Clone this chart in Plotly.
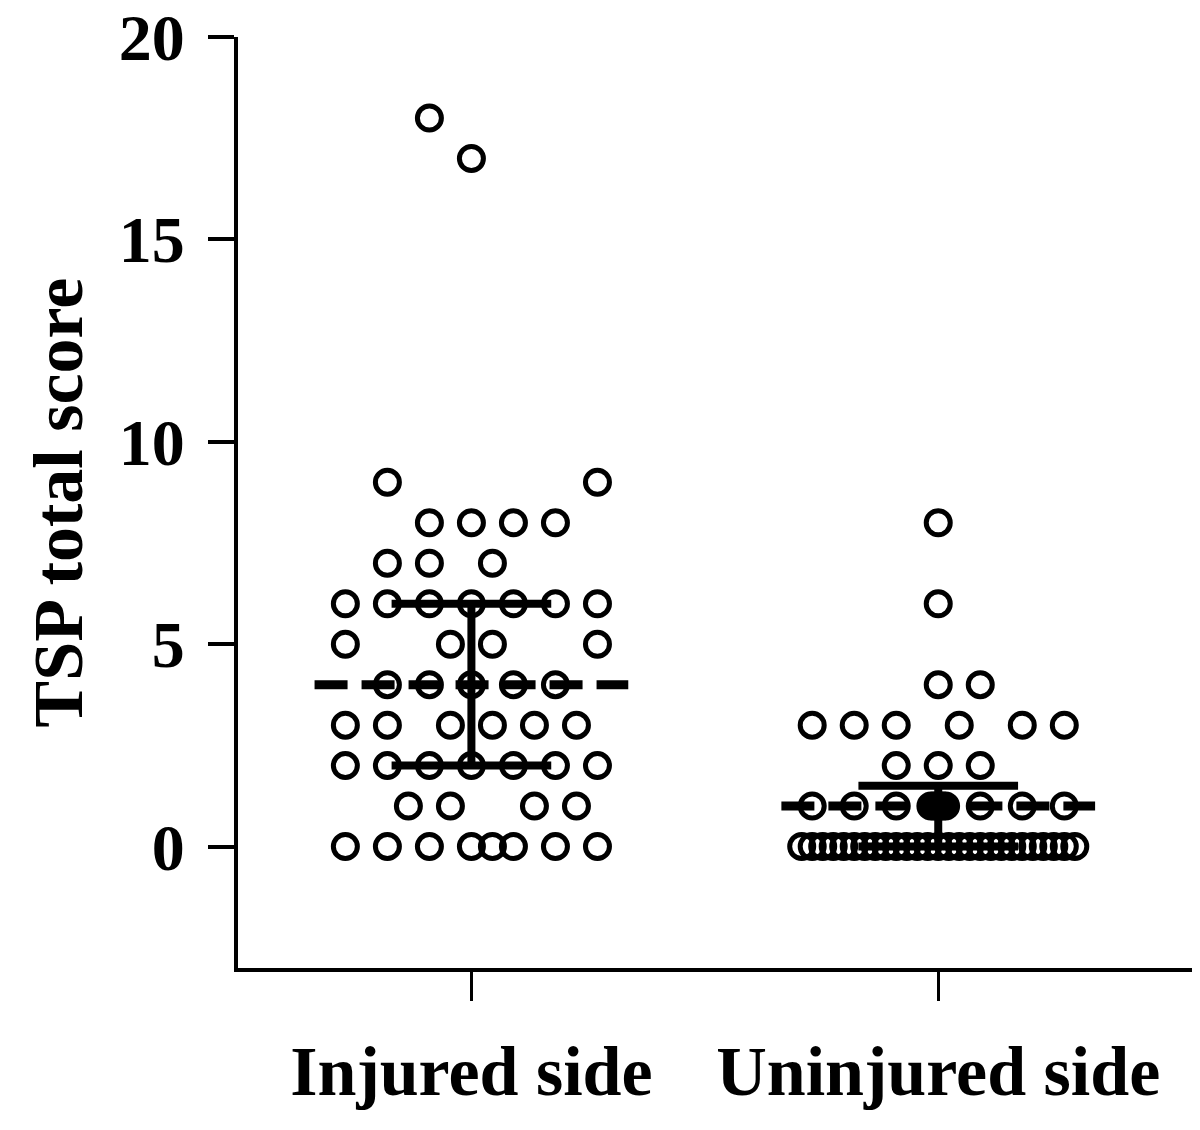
import plotly.graph_objects as go

# data
categories = ["Injured side", "Uninjured side"]

injured_values = [18, 17, 9, 9, 8, 8, 8, 8, 7, 7, 7,
                  6, 6, 6, 6, 6, 6, 6, 5, 5, 5, 5, 4, 4, 4, 4, 4,
                  3, 3, 3, 3, 3, 3, 2, 2, 2, 2, 2, 2, 2, 1, 1, 1, 1,
                  0, 0, 0, 0, 0, 0, 0, 0]
uninjured_values = [8, 6, 4, 4, 3, 3, 3, 3, 3, 3, 2, 2, 2,
                    1, 1, 1, 1, 1, 1, 1, 1, 1, 1, 1, 1,
                    0, 0, 0, 0, 0, 0, 0, 0, 0, 0, 0, 0, 0, 0,
                    0, 0, 0, 0, 0, 0, 0, 0, 0, 0, 0, 0, 0]

# summary lines (median with interquartile range)
medians = [4, 1]
q1 = [2, 0]
q3 = [6, 1.5]

# scatter arrangement: horizontal slot of every dot (one slot = half a dot spacing)
injured_slots = [-2, 0, -4, 6, -2, 0, 2, 4, -4, -2, 1,
                 -6, -4, -2, 0, 2, 4, 6, -6, -1, 1, 6, -4, -2, 0, 2, 4,
                 -6, -4, -1, 1, 3, 5, -6, -4, -2, 0, 2, 4, 6, -3, -1, 3, 5,
                 -6, -4, -2, 0, 1, 2, 4, 6]
uninjured_slots = [0, 0, 0, 2, -6, -4, -2, 1, 4, 6, -2, 0, 2,
                   -6, -4, -2, -0.35, -0.2, -0.05, 0.05, 0.2, 0.35, 2, 4, 6, 0,
                   -6.5, -6, -5.5, -5, -4.5, -4, -3.5, -3, -2.5, -2, -1.5, -1, -0.5,
                   0.5, 1, 1.5, 2, 2.5, 3, 3.5, 4, 4.5, 5, 5.5, 6, 6.5, 0]

SLOT = 0.045
MED_HALF = 0.336
CAP_HALF = 0.171
FONT = "Liberation Serif"

fig = go.Figure()

groups = [(injured_values, injured_slots), (uninjured_values, uninjured_slots)]
for i, (vals, slots) in enumerate(groups):
    xpos = i + 1
    fig.add_trace(go.Scatter(
        x=[xpos + s * SLOT for s in slots],
        y=vals,
        mode="markers",
        marker=dict(symbol="circle-open", size=24, color="black",
                    line=dict(width=5, color="black")),
        cliponaxis=False,
        showlegend=False,
    ))

for i in range(len(categories)):
    xpos = i + 1
    # median, dashed
    fig.add_trace(go.Scatter(
        x=[xpos - MED_HALF, xpos + MED_HALF], y=[medians[i], medians[i]],
        mode="lines", line=dict(color="black", width=9, dash="33px,14px"),
        showlegend=False, cliponaxis=False,
    ))
    # interquartile range
    fig.add_trace(go.Scatter(
        x=[xpos - CAP_HALF, xpos + CAP_HALF, None, xpos, xpos, None,
           xpos - CAP_HALF, xpos + CAP_HALF],
        y=[q3[i], q3[i], None, q3[i], q1[i], None, q1[i], q1[i]],
        mode="lines", line=dict(color="black", width=8),
        showlegend=False, cliponaxis=False,
    ))

# page body adds an 8px margin, so the figure is a bit smaller and shifted
fig.update_layout(
    width=1192,
    height=1122,
    plot_bgcolor="white",
    paper_bgcolor="white",
    margin=dict(l=230, r=5, t=29, b=162),
    font=dict(family=FONT, color="black"),
)

fig.update_xaxes(
    range=[0.5, 2.55],
    tickvals=[1, 2],
    ticktext=categories,
    tickfont=dict(family=FONT, size=70, weight="bold"),
    ticks="outside", ticklen=29, tickwidth=3, tickcolor="black",
    ticklabelstandoff=10, ticklabeloverflow="allow",
    showline=True, linecolor="black", linewidth=4,
    showgrid=False, zeroline=False, automargin=False,
)
fig.update_yaxes(
    range=[-3, 20],
    tickvals=[0, 5, 10, 15, 20],
    tickfont=dict(family=FONT, size=66, weight="bold"),
    ticks="outside", ticklen=26, tickwidth=4, tickcolor="black",
    ticklabelstandoff=10, ticklabeloverflow="allow",
    showline=True, linecolor="black", linewidth=4,
    showgrid=False, zeroline=False, automargin=False,
    title=dict(text="TSP total score", font=dict(family=FONT, size=70, weight="bold"),
               standoff=14),
)

fig.write_html("out.html")
